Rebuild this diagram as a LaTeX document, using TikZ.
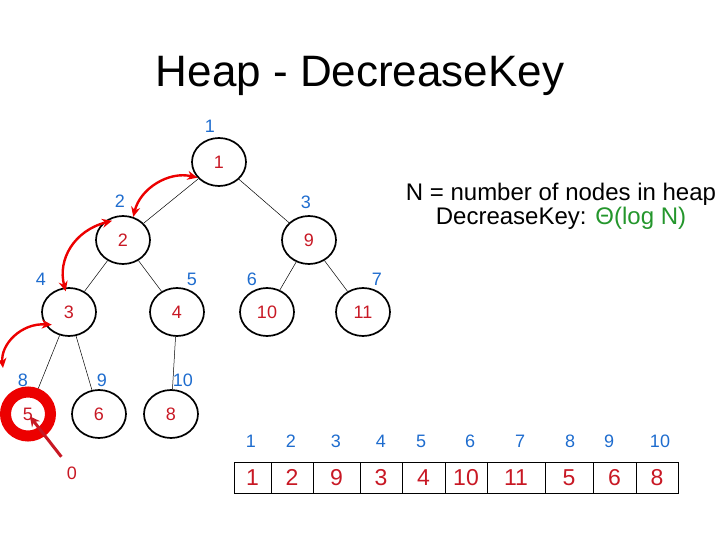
\documentclass[tikz,border=0pt]{standalone}
\usepackage{fontspec}
\setmainfont{Liberation Sans}
\usepackage{tikz}
\usetikzlibrary{shapes.geometric,arrows.meta}
\definecolor{keyred}{RGB}{200,24,36}
\definecolor{idxblue}{RGB}{30,108,206}
\definecolor{bigred}{RGB}{236,0,0}
\definecolor{thetagreen}{RGB}{36,150,44}

\tikzset{
  heapnode/.style={ellipse,draw,line width=1.7pt,minimum width=54pt,minimum height=48pt,inner sep=0pt,text=keyred,font=\fontsize{18}{18}\selectfont},
  idx/.style={text=idxblue,font=\fontsize{18}{18}\selectfont},
  cell/.style={rectangle,draw,line width=0.9pt,minimum height=31pt,inner sep=0pt,text=keyred,font=\fontsize{23}{23}\selectfont},
  swaparrow/.style={draw=bigred,line width=2.4pt,{Stealth[length=10pt,width=9pt]}-{Stealth[length=10pt,width=9pt]}},
  pointer/.style={draw=keyred,line width=3pt,-{Stealth[length=10pt,width=10pt]}},
}

\begin{document}
\begin{tikzpicture}[x=1pt,y=-1pt]
\useasboundingbox (0,0) rectangle (720,540);

\node[anchor=base,font=\fontsize{44}{44}\selectfont] (title) at (360,87) {Heap - DecreaseKey};
\node[anchor=base,font=\fontsize{24}{24}\selectfont] (info1) at (561,201) {N = number of nodes in heap};
\node[anchor=base,font=\fontsize{24}{24}\selectfont] (info2) at (561,225) {DecreaseKey: \textcolor{thetagreen}{Θ(log N)}};

% tree
\node[heapnode] (n1) at (219,162) {1};
\node[heapnode] (n2) at (123,240) {2};
\node[heapnode] (n3) at (309,240) {9};
\node[heapnode] (n4) at (69,312) {3};
\node[heapnode] (n5) at (177,312) {4};
\node[heapnode] (n6) at (267,312) {10};
\node[heapnode] (n7) at (363,312) {11};
\node[heapnode,draw=bigred,line width=11pt,minimum width=45pt,minimum height=44pt] (n8) at (28,414) {5};
\node[heapnode] (n9) at (99,414) {6};
\node[heapnode] (n10) at (171,414) {8};

\draw[line width=0.5pt] (n1) to (n2);
\draw[line width=0.5pt] (n1) to (n3);
\draw[line width=0.5pt] (n2) to (n4);
\draw[line width=0.5pt] (n2) to (n5);
\draw[line width=0.5pt] (n3) to (n6);
\draw[line width=0.5pt] (n3) to (n7);
\draw[line width=0.5pt] (n4) to (n8);
\draw[line width=0.5pt] (n4) to (n9);
\draw[line width=0.5pt] (n5) to (n10);

%index of each node
\node[idx] (i1) at (210,126) {1};
\node[idx] (i2) at (120,201) {2};
\node[idx] (i3) at (306,202) {3};
\node[idx] (i4) at (41,279) {4};
\node[idx] (i5) at (192,279) {5};
\node[idx] (i6) at (252,279) {6};
\node[idx] (i7) at (377,279) {7};
\node[idx] (i8) at (23,380) {8};
\node[idx] (i9) at (102,380) {9};
\node[idx] (i10) at (183,380) {10};

% swaps on the way up
\coordinate (swapend) at (3,368);
\draw[swaparrow] (n2.66) to[bend left=45] (n1.216);
\draw[swaparrow,shorten <=-4pt,shorten >=-10pt] (n4.100) to[bend left=45] (n2.141);
\draw[swaparrow,shorten >=-7pt] (swapend) to[bend left=50] (n4.207);

\node[text=keyred,font=\fontsize{18}{18}\selectfont] (zero) at (72,473) {0};
\draw[pointer,shorten <=8pt,shorten >=3pt] (zero.120) -- (n8.center);

% array
\node[cell,minimum width=37pt] (a1) at (252.5,477.5) {1};
\node[cell,minimum width=42pt] (a2) at (292,477.5) {2};
\node[cell,minimum width=47pt] (a3) at (336.5,477.5) {9};
\node[cell,minimum width=42pt] (a4) at (381,477.5) {3};
\node[cell,minimum width=43pt] (a5) at (423.5,477.5) {4};
\node[cell,minimum width=42pt] (a6) at (466,477.5) {10};
\node[cell,minimum width=58pt] (a7) at (516,477.5) {11};
\node[cell,minimum width=48pt] (a8) at (569,477.5) {5};
\node[cell,minimum width=43pt] (a9) at (614.5,477.5) {6};
\node[cell,minimum width=42pt] (a10) at (657,477.5) {8};

\node[idx] (j1) at (251,441) {1};
\node[idx] (j2) at (291,441) {2};
\node[idx] (j3) at (336,441) {3};
\node[idx] (j4) at (381,441) {4};
\node[idx] (j5) at (421,441) {5};
\node[idx] (j6) at (470,441) {6};
\node[idx] (j7) at (520,441) {7};
\node[idx] (j8) at (570,441) {8};
\node[idx] (j9) at (609,441) {9};
\node[idx] (j10) at (660,441) {10};
\end{tikzpicture}
\end{document}
